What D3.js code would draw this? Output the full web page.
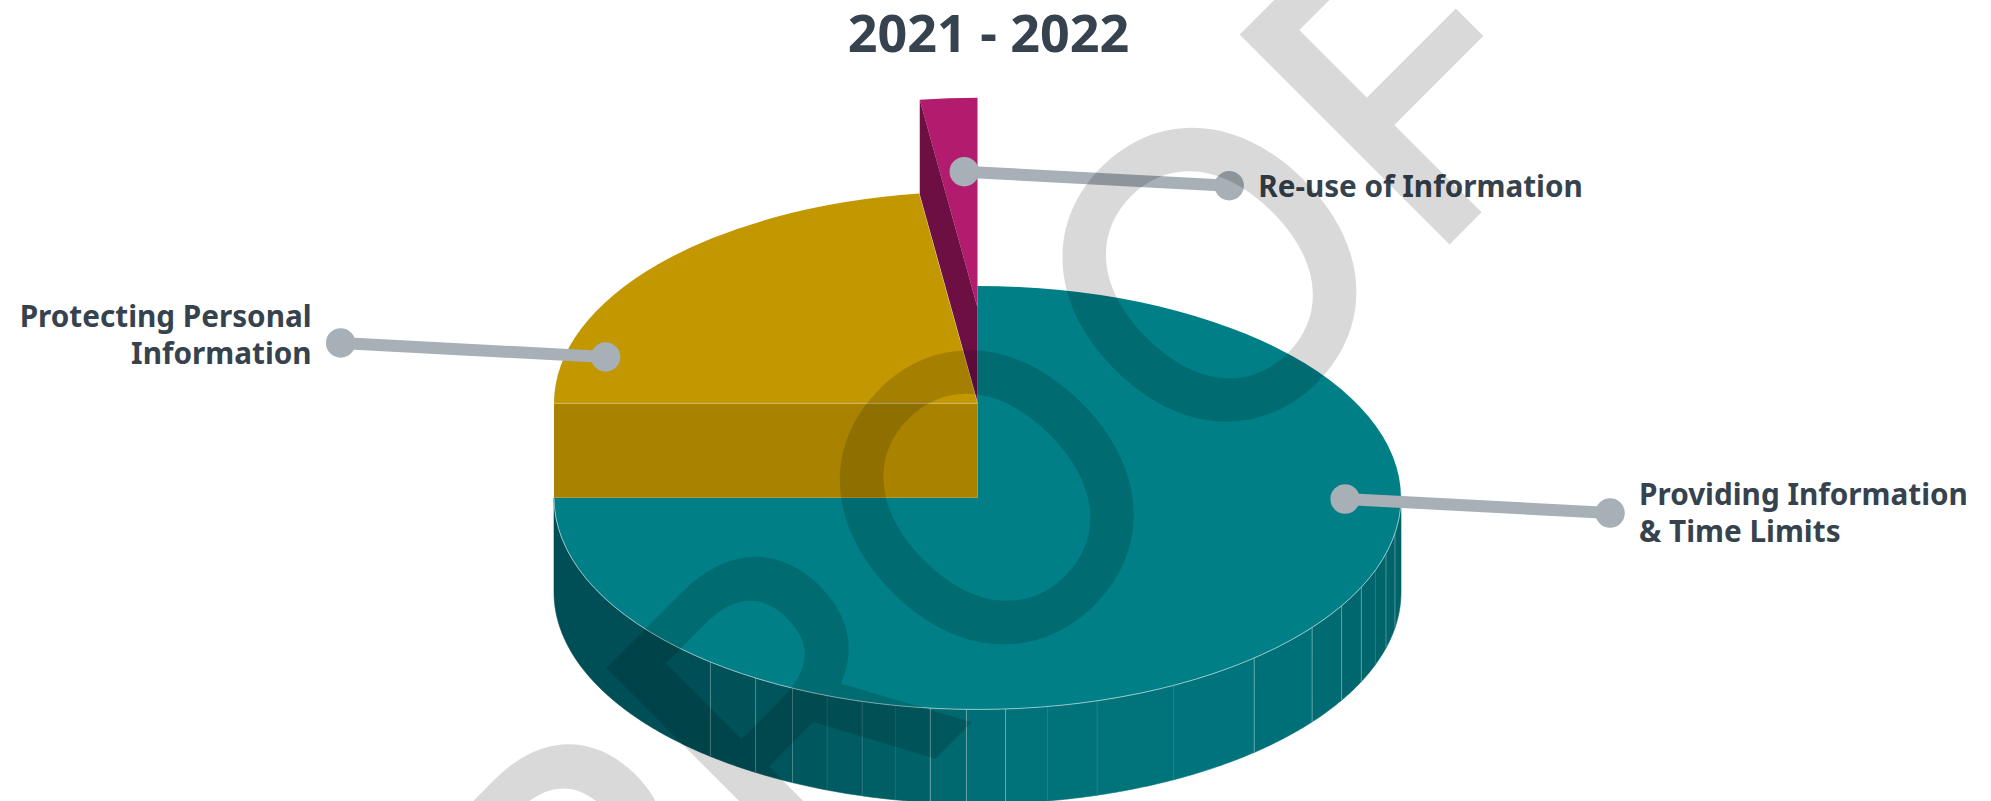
<!DOCTYPE html>
<html>
<head>
<meta charset="utf-8">
<style>
html,body{margin:0;padding:0;background:#fff;overflow:hidden}
svg{display:block}
text{font-family:"Noto Sans",sans-serif;font-weight:700;fill:#36424d}
</style>
<script src="https://cdn.jsdelivr.net/npm/d3@7/dist/d3.min.js"></script>
</head>
<body>
<svg id="chart" width="1991" height="801"></svg>
<script>
// Share of requests per category, 2021 - 2022
const chartTitle = "2021 - 2022";
const categories = ["Providing Information & Time Limits", "Protecting Personal Information", "Re-use of Information"];
const values = [75, 22.8, 2.2];
const topColours = ["#007f87", "#c29700", "#b31b6f"];
const faceColours = ["#004f55", "#a98300", "#6d0f42"];
const labelLines = [["Providing Information", "& Time Limits"], ["Protecting Personal", "Information"], ["Re-use of Information"]];
// Lift of each slice above the base disc, and its radius, in disc-depth and radius units
const sliceLift = [0, 1, 2.015];
const sliceRadius = [1, 1, 0.99];
// Where each leader line meets its slice: degrees clockwise from the back of the disc, fraction of radius
const leaderAngle = [90.4, 284, 357.2];
const leaderRadius = [0.868, 0.905, 0.642];
// Facets along the teal rim, degrees clockwise from the back of the disc
const rimFacets = [90, 99.7, 105.3, 110, 115, 120.7, 127.8, 139.2, 152.4, 163.6, 170.5, 176.2, 181.5, 186.4, 191.2, 195.8, 200.8, 205.9, 211.6, 219.1, 270];
const rimSeamOpacity = [0, .3, .3, .12, .35, .35, .35, .35, .08, .1, .08, .4, .4, .4, .06, .15, .1, .25, .3, .3, 0];
const rimColourAngles = [90, 115, 140, 176, 186, 196, 219, 270];
const rimColourStops = ["#00626a", "#00656c", "#00747c", "#00727a", "#00656c", "#005c63", "#005057", "#004f55"];

const svg = d3.select("#chart");
const cx = 977.5, cy = 497.7, R = 423.5, tilt = 0.5, depth = 94.4;
const radius = d3.scaleLinear().domain([0, 1]).range([0, R]);
const deg = d3.scaleLinear().domain([0, 360]).range([0, 2 * Math.PI]);
const rimColour = d3.scaleLinear().domain(rimColourAngles).range(rimColourStops);

// Place a point given in disc coordinates on the tilted page
function project(a, r, lift) {
  return [cx + radius(r) * Math.sin(a), cy - radius(r) * tilt * Math.cos(a) - lift];
}

const pie = d3.pie().sort(null).value(d => d)(values);
const arc = d3.arc().innerRadius(0);
const line = d3.line();

// Side wall of the base disc, built up from its facets
const rim = svg.append("g");
const facets = d3.pairs(rimFacets);
rim.selectAll("path.facet").data(facets).join("path")
  .attr("class", "facet")
  .attr("d", ([a0, a1]) => {
    const steps = d3.range(a0, a1, 0.5).concat(a1).map(deg);
    const top = steps.map(a => project(a, 1, 0));
    const bottom = steps.slice().reverse().map(a => project(a, 1, -depth));
    return line(top.concat(bottom)) + "Z";
  })
  .attr("fill", ([a0, a1]) => rimColour((a0 + a1) / 2))
  .attr("stroke", ([a0, a1]) => rimColour((a0 + a1) / 2))
  .attr("stroke-width", 0.6);
rim.selectAll("line").data(rimFacets).join("line")
  .each(function (a, i) {
    const p = project(deg(a), 1, 0), q = project(deg(a), 1, -depth);
    d3.select(this).attr("x1", p[0]).attr("y1", p[1]).attr("x2", q[0]).attr("y2", q[1])
      .attr("stroke", "#fff").attr("stroke-width", 1).attr("stroke-opacity", rimSeamOpacity[i]);
  });

// Top of the base slice with a pale rim line
svg.append("path")
  .attr("transform", `translate(${cx},${cy}) scale(1,${tilt})`)
  .attr("d", arc.outerRadius(radius(1))(pie[0]))
  .attr("fill", topColours[0]);
svg.append("path")
  .attr("transform", `translate(${cx},${cy}) scale(1,${tilt})`)
  .attr("d", d3.arc().innerRadius(radius(1)).outerRadius(radius(1)).startAngle(deg(90)).endAngle(deg(270))())
  .attr("fill", "none").attr("stroke", "#fff").attr("stroke-opacity", .3).attr("stroke-width", 1)
  .attr("vector-effect", "non-scaling-stroke");

// Raised slice: cut face along its left edge, then the top
const goldLift = sliceLift[1] * depth;
const goldA = project(pie[1].startAngle, 1, goldLift), goldC = project(0, 0, goldLift);
svg.append("path")
  .attr("d", line([goldA, goldC, project(0, 0, 0), project(pie[1].startAngle, 1, 0)]) + "Z")
  .attr("fill", faceColours[1]);
svg.append("path")
  .attr("transform", `translate(${cx},${cy - goldLift}) scale(1,${tilt})`)
  .attr("d", arc.outerRadius(radius(sliceRadius[1]))(pie[1]))
  .attr("fill", topColours[1]);
svg.append("path")
  .attr("d", line([goldA, goldC]))
  .attr("stroke", "#fff").attr("stroke-opacity", .3).attr("stroke-width", 1);

// Highest slice: top first, cut face in front of it
const magLift = sliceLift[2] * depth, magR = sliceRadius[2];
svg.append("path")
  .attr("transform", `translate(${cx},${cy - magLift}) scale(1,${tilt})`)
  .attr("d", arc.outerRadius(radius(magR))(pie[2]))
  .attr("fill", topColours[2]);
const magRim = pie[2].startAngle;
svg.append("path")
  .attr("d", line([project(magRim, magR, magLift), project(0, 0, magLift), project(0, 0, magLift - depth), project(magRim, magR, magLift - depth)]) + "Z")
  .attr("fill", faceColours[2]);

// Leader lines and category labels
const leaderRun = [265, 14];
const leaderSide = [1, -1, 1];
const leaders = svg.append("g");
values.forEach((v, i) => {
  const p = project(deg(leaderAngle[i]), leaderRadius[i], sliceLift[i] * depth);
  const s = leaderSide[i];
  const q = [p[0] + s * leaderRun[0], p[1] + (s > 0 ? leaderRun[1] : -leaderRun[1])];
  leaders.append("line").attr("x1", p[0]).attr("y1", p[1]).attr("x2", q[0]).attr("y2", q[1])
    .attr("stroke", "#a6b0b6").attr("stroke-width", 12);
  leaders.append("circle").attr("cx", p[0]).attr("cy", p[1]).attr("r", 14.7).attr("fill", "#a6b0b6");
  leaders.append("circle").attr("cx", q[0]).attr("cy", q[1]).attr("r", 14.7).attr("fill", "#a6b0b6");
  const n = labelLines[i].length;
  const t = svg.append("text")
    .attr("font-size", 29.7)
    .attr("text-anchor", s > 0 ? "start" : "end");
  labelLines[i].forEach((ln, k) => {
    t.append("tspan")
      .attr("x", q[0] + s * 29)
      .attr("y", q[1] + (n === 1 ? 11 : (s > 0 ? -8 : -16)) + k * 37.5)
      .text(ln);
  });
});

svg.append("text")
  .attr("x", 988.5).attr("y", 52)
  .attr("text-anchor", "middle").attr("font-size", 52)
  .text(chartTitle);

// Diagonal stamp across the whole page
svg.append("text")
  .attr("transform", "translate(1102,592) rotate(-45)")
  .attr("text-anchor", "middle")
  .style("font-family", '"Inter"').style("font-weight", 500)
  .style("fill", "#000").style("fill-opacity", .15)
  .style("letter-spacing", "2px")
  .attr("font-size", 408)
  .text("PROOF");
</script>
</body>
</html>
